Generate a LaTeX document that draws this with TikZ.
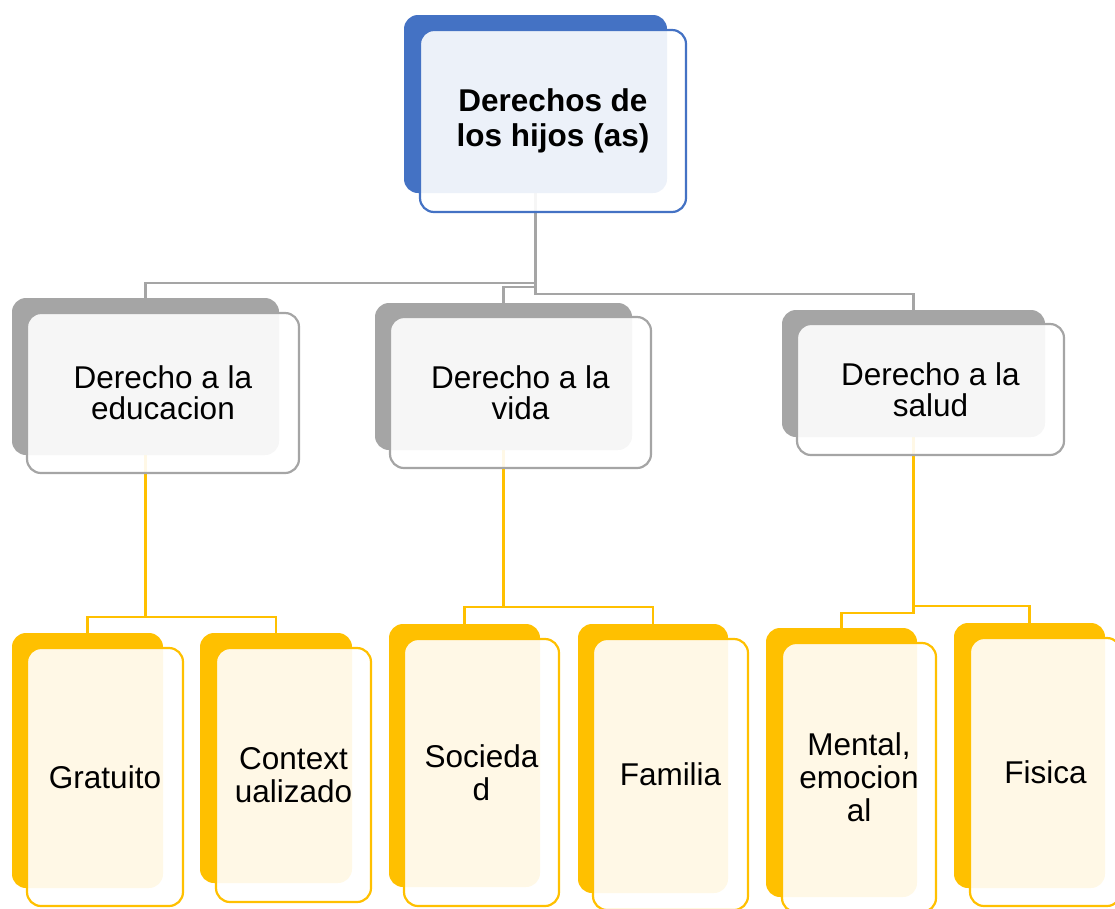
\documentclass[tikz,border=0pt]{standalone}
\usepackage{fontspec}
\setmainfont{Liberation Sans}
\definecolor{cblue}{HTML}{4472C4}
\definecolor{cgrey}{HTML}{A5A5A5}
\definecolor{cyell}{HTML}{FFC000}
\pgfdeclarelayer{bg}
\pgfsetlayers{bg,main}
\tikzset{
  back/.style={shape=rectangle, rounded corners=14pt, inner sep=0pt, outer sep=0pt,
    anchor=north west, draw=none, fill=#1},
  front/.style={shape=rectangle, rounded corners=14pt, inner sep=0pt, outer sep=0pt,
    anchor=north west, draw=#1, line width=2.2pt, fill=white, fill opacity=0.9,
    text opacity=1, align=center, text=black},
  midtxt/.style={font=\fontsize{31.5}{31}\selectfont},
  lowtxt/.style={font=\fontsize{31.5}{33}\selectfont},
  toptxt/.style={font=\fontsize{31.5}{35}\selectfont\bfseries},
  gline/.style={draw=cgrey, line width=2.6pt},
  yline/.style={draw=cyell, line width=2.6pt},
  sz/.style 2 args={minimum width=#1pt, minimum height=#2pt},
}
\begin{document}
\begin{tikzpicture}[x=1pt,y=-1pt]
\useasboundingbox (0,0) rectangle (1115,908);
\clip (0,0) rectangle (1115,908);
% top
\node[back=cblue, sz={263}{178}] (b0) at (404,15) {};
\node[front=cblue, sz={266}{182}, toptxt] (f0) at (420,30) {Derechos de\\los hijos (as)};
% middle level
\node[back=cgrey, sz={267}{157}] (b1) at (12,298) {};
\node[front=cgrey, sz={272}{160}, midtxt] (f1) at (27,313) {Derecho a la\\educacion};
\node[back=cgrey, sz={257}{147}] (b2) at (375,303) {};
\node[front=cgrey, sz={261}{151}, midtxt] (f2) at (390,317) {Derecho a la\\vida};
\node[back=cgrey, sz={263}{127}] (b3) at (782,310) {};
\node[front=cgrey, sz={267}{131}, midtxt] (f3) at (797,324) {Derecho a la\\salud};
% bottom level
\node[back=cyell, sz={151}{255}] (b11) at (12,633) {};
\node[front=cyell, sz={156}{258}, lowtxt] (f11) at (27,648) {Gratuito};
\node[back=cyell, sz={152}{250}] (b12) at (200,633) {};
\node[front=cyell, sz={155}{254}, lowtxt] (f12) at (216,648) {Context\\ualizado};
\node[back=cyell, sz={151}{263}] (b21) at (389,624) {};
\node[front=cyell, sz={155}{267}, lowtxt] (f21) at (404,639) {Socieda\\d};
\node[back=cyell, sz={150}{269}] (b22) at (578,624) {};
\node[front=cyell, sz={155}{271}, lowtxt] (f22) at (593,639) {Familia};
\node[back=cyell, sz={151}{269}] (b31) at (766,628) {};
\node[front=cyell, sz={154}{269}, lowtxt] (f31) at (782,643) {Mental,\\emocion\\al};
\node[back=cyell, sz={151}{265}] (b32) at (954,623) {};
\node[front=cyell, sz={151}{268}, lowtxt] (f32) at (970,638) {Fisica};
% connectors
\begin{pgfonlayer}{bg}
\draw[gline] (b0.south) |- ([yshift=15pt]b1.north) -- (b1.north);
\draw[gline] (b0.south) |- ([yshift=16pt]b2.north) -- (b2.north);
\draw[gline] (b0.south) |- ([yshift=16pt]b3.north) -- (b3.north);
\draw[yline] (b1.south) |- ([yshift=16pt]b11.north) -- (b11.north);
\draw[yline] (b1.south) |- ([yshift=16pt]b12.north) -- (b12.north);
\draw[yline] (b2.south) |- ([yshift=17pt]b21.north) -- (b21.north);
\draw[yline] (b2.south) |- ([yshift=17pt]b22.north) -- (b22.north);
\draw[yline] (b3.south) |- ([yshift=15pt]b31.north) -- (b31.north);
\draw[yline] (b3.south) |- ([yshift=17pt]b32.north) -- (b32.north);
\end{pgfonlayer}
\end{tikzpicture}
\end{document}
